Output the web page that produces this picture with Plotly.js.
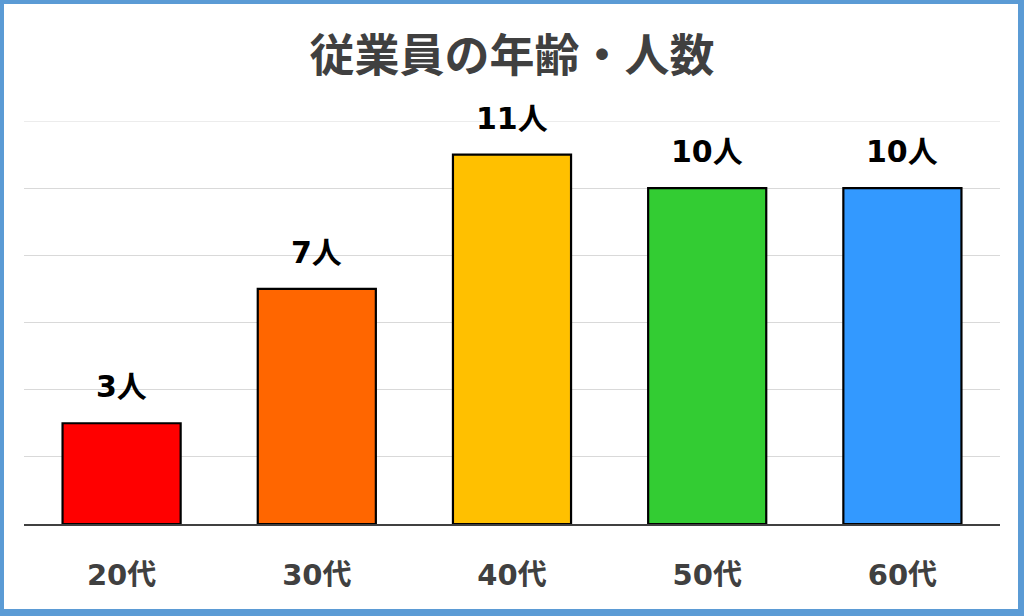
<!DOCTYPE html>
<html>
<head>
<meta charset="utf-8">
<script src="https://cdn.plot.ly/plotly-3.0.1.min.js"></script>
<style>
html,body{margin:0;padding:0;background:#fff;}
#wrap{position:relative;width:1024px;height:616px;}
#chart{width:1024px;height:616px;}
#frame{position:absolute;left:0;top:0;width:1024px;height:616px;box-sizing:border-box;border-style:solid;border-color:#5B9BD5;border-width:4px 6px 7px 4px;pointer-events:none;}
</style>
</head>
<body>
<div id="wrap"><div id="chart"></div><div id="frame"></div></div>
<script>
var categories = ['20代', '30代', '40代', '50代', '60代'];
var counts = [3, 7, 11, 10, 10];
var labels = ['3人', '7人', '11人', '10人', '10人'];
var colors = ['#FF0000', '#FF6600', '#FFC000', '#33CC33', '#3399FF'];
var yMax = 12;

var FONT = '"DejaVu Sans", "Noto Sans CJK JP", sans-serif';
var TFONT = '"Noto Sans CJK JP", "Noto Sans", sans-serif';

var trace = {
  type: 'bar',
  x: categories,
  y: counts,
  width: 0.605,
  marker: {color: colors, line: {color: '#000000', width: 2.2}},
  hoverinfo: 'none'
};

var annotations = categories.map(function(c, i){
  return {
    x: c, y: counts[i], xref: 'x', yref: 'y',
    text: '<b>' + labels[i] + '</b>',
    showarrow: false, yanchor: 'bottom', yshift: 17,
    font: {family: FONT, size: 30, color: '#000000'}
  };
});

var layout = {
  width: 1024, height: 616,
  margin: {l: 24, r: 24, t: 121, b: 92},
  paper_bgcolor: '#ffffff', plot_bgcolor: '#ffffff',
  title: {text: '<b>従業員の年齢・人数</b>', x: 0.5, xanchor: 'center', y: 0.909, yanchor: 'middle',
          font: {family: TFONT, size: 45, color: '#404040'}},
  xaxis: {
    showline: true, linecolor: '#404040', linewidth: 2,
    ticks: '', showgrid: false,
    tickfont: {family: FONT, size: 29, color: '#404040', weight: 'bold'},
    ticklabelstandoff: 24
  },
  yaxis: {
    range: [0, yMax], dtick: 2, showticklabels: false,
    showgrid: true, gridcolor: '#D9D9D9', gridwidth: 1,
    zeroline: false, showline: false, fixedrange: true
  },
  shapes: [{type: 'line', xref: 'paper', yref: 'y', x0: 0, x1: 1, y0: yMax, y1: yMax,
            line: {color: '#D9D9D9', width: 1}, layer: 'below'}],
  showlegend: false,
  annotations: annotations
};

Plotly.newPlot('chart', [trace], layout, {displayModeBar: false, staticPlot: true});
</script>
</body>
</html>
